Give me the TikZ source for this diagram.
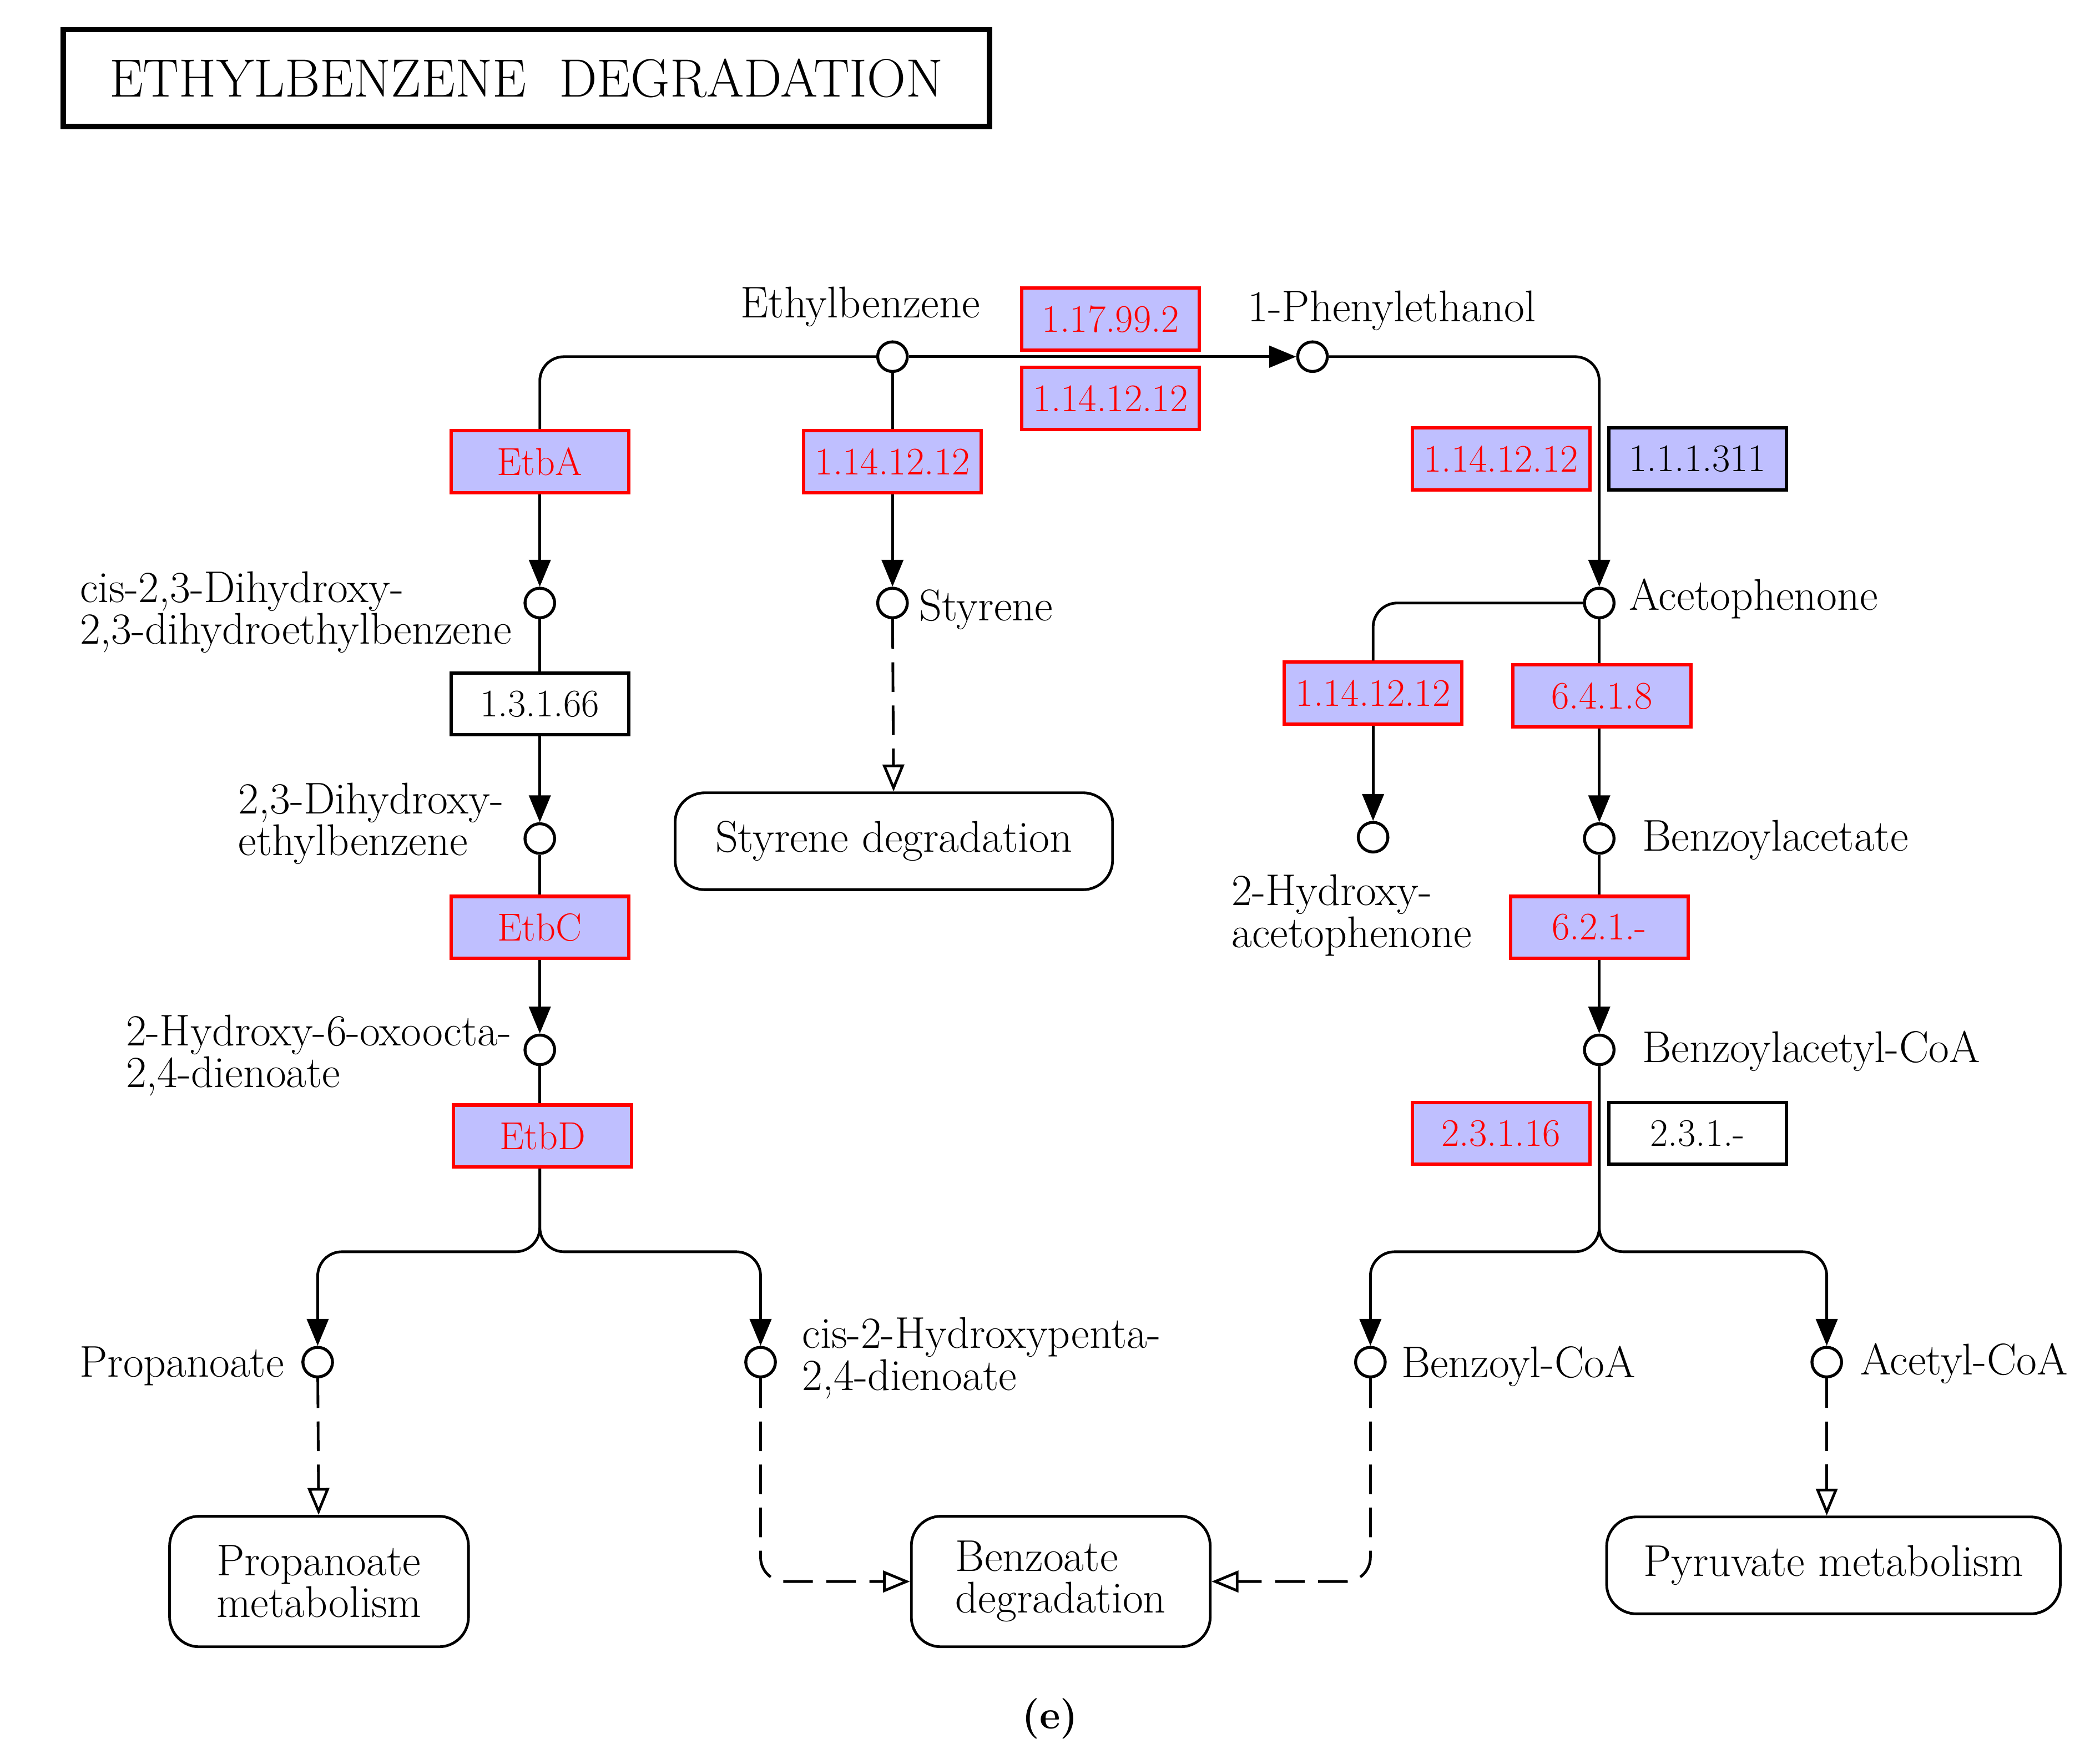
\documentclass[tikz,border=0pt]{standalone}
\usetikzlibrary{arrows.meta}
\definecolor{enzfill}{RGB}{191,191,255}
\begin{document}
\begin{tikzpicture}[x=1pt,y=-1pt,line width=2pt,
    every node/.style={font=\fontsize{33}{31}\selectfont},
    cpd/.style={draw, circle, minimum size=22pt, inner sep=0pt, line width=2.2pt},
    enz/.style={draw=red, fill=enzfill, text=red, minimum width=132pt, minimum height=46pt, inner sep=0pt, line width=2.5pt, font=\fontsize{29}{29}\selectfont},
    enzb/.style={enz, draw=black, text=black},
    enzw/.style={enz, draw=black, fill=white, text=black},
    map/.style={draw, rounded corners=22pt, line width=2pt, align=left, inner sep=0pt},
    lbl/.style={align=left, inner sep=2pt},
    fa/.style={-{Triangle[width=16pt,length=20pt]}},
    oa/.style={-{Triangle[open,width=16pt,length=20pt,line width=2pt]}},
    dsh/.style={dash pattern=on 22pt off 10pt},
    rc/.style={rounded corners=18pt}]
\useasboundingbox (0,0) rectangle (1560,1303);

% title
\node[draw, line width=4pt, minimum width=688pt, minimum height=72pt, font=\fontsize{40}{40}\selectfont] (title) at (391,58) {ETHYLBENZENE\ \ DEGRADATION};

% compounds
\node[cpd] (ethb) at (663,265) {};
\node[cpd] (pheth) at (975,265) {};
\node[cpd] (cisdi) at (401,448) {};
\node[cpd] (dihy) at (401,623) {};
\node[cpd] (hoxo) at (401,780) {};
\node[cpd] (styr) at (663,448) {};
\node[cpd] (acet) at (1188,448) {};
\node[cpd] (hyac) at (1020,622) {};
\node[cpd] (bzac) at (1188,623) {};
\node[cpd] (bzcoa) at (1188,780) {};
\node[cpd] (prop) at (236,1012) {};
\node[cpd] (cishp) at (565,1012) {};
\node[cpd] (bcoa) at (1018,1012) {};
\node[cpd] (accoa) at (1357,1012) {};

% compound labels
\node[lbl] at (639,228) {Ethylbenzene};
\node[lbl] at (1034,231) {1-Phenylethanol};
\node[lbl, anchor=east] at (383,455) {cis-2,3-Dihydroxy-\\2,3-dihydroethylbenzene};
\node[lbl, anchor=east] at (377,612) {2,3-Dihydroxy-\\ethylbenzene};
\node[lbl, anchor=east] at (383,784) {2-Hydroxy-6-oxoocta-\\2,4-dienoate};
\node[lbl, anchor=west] at (680,453) {Styrene};
\node[lbl, anchor=west] at (1207,445) {Acetophenone};
\node[lbl, anchor=west] at (912,680) {2-Hydroxy-\\acetophenone};
\node[lbl, anchor=west] at (1217,624) {Benzoylacetate};
\node[lbl, anchor=west] at (1217,781) {Benzoylacetyl-CoA};
\node[lbl, anchor=east] at (214,1015) {Propanoate};
\node[lbl, anchor=west] at (593,1009) {cis-2-Hydroxypenta-\\2,4-dienoate};
\node[lbl, anchor=west] at (1038,1015) {Benzoyl-CoA};
\node[lbl, anchor=west] at (1379,1013) {Acetyl-CoA};

% enzymes
\node[enz] (e1) at (825,237) {1.17.99.2};
\node[enz] (e2) at (825,296) {1.14.12.12};
\node[enz] (etba) at (401,343) {EtbA};
\node[enz] (e3) at (663,343) {1.14.12.12};
\node[enzw] (e4) at (401,523) {1.3.1.66};
\node[enz] (etbc) at (401,689) {EtbC};
\node[enz] (etbd) at (403,844) {EtbD};
\node[enz] (e5) at (1115,341) {1.14.12.12};
\node[enzb] (e6) at (1261,341) {1.1.1.311};
\node[enz] (e7) at (1020,515) {1.14.12.12};
\node[enz] (e8) at (1190,517) {6.4.1.8};
\node[enz] (e9) at (1188,689) {6.2.1.-};
\node[enz] (e10) at (1115,842) {2.3.1.16};
\node[enzw] (e11) at (1261,842) {2.3.1.-};

% maps
\node[map, minimum width=222pt, minimum height=97pt] (mprop) at (237,1175) {Propanoate\\metabolism};
\node[map, minimum width=222pt, minimum height=97pt] (mbenz) at (788,1175) {Benzoate\\degradation};
\node[map, minimum width=325pt, minimum height=72pt] (mstyr) at (664,625) {Styrene degradation};
\node[map, minimum width=337pt, minimum height=72pt] (mpyr) at (1362,1163) {Pyruvate metabolism};

% reactions
\draw[rc] (ethb) -| (etba);
\draw[fa] (etba) -- (cisdi);
\draw (cisdi) -- (e4);
\draw[fa] (e4) -- (dihy);
\draw (dihy) -- (etbc);
\draw[fa] (etbc) -- (hoxo);
\draw (hoxo) -- (etbd.north -| hoxo);
\draw[fa, rc] (etbd.south -| hoxo) |- (236,930) -- (prop);
\draw[fa, rc] (etbd.south -| hoxo) |- (565,930) -- (cishp);
\draw (ethb) -- (e3);
\draw[fa] (e3) -- (styr);
\draw[oa, dsh] (styr) -- (mstyr);
\draw[fa] (ethb) -- (pheth);
\draw[fa, rc] (pheth) -| (acet);
\draw[rc] (acet) -| (e7);
\draw[fa] (e7) -- (hyac);
\draw (acet) -- (e8.north -| acet);
\draw[fa] (e8.south -| acet) -- (bzac);
\draw (bzac) -- (e9);
\draw[fa] (e9) -- (bzcoa);
\draw[fa, rc] (bzcoa) |- (1018,930) -- (bcoa);
\draw[fa, rc] (bzcoa) |- (1357,930) -- (accoa);
\draw[oa, dsh] (prop) -- (mprop);
\draw[oa, dsh, rc] (cishp) |- (mbenz);
\draw[oa, dsh, rc] (bcoa) |- (mbenz);
\draw[oa, dsh] (accoa) -- (accoa |- mpyr.north);

\node[font=\bfseries\fontsize{30}{30}\selectfont] (cap) at (780,1277) {(e)};
\end{tikzpicture}
\end{document}
